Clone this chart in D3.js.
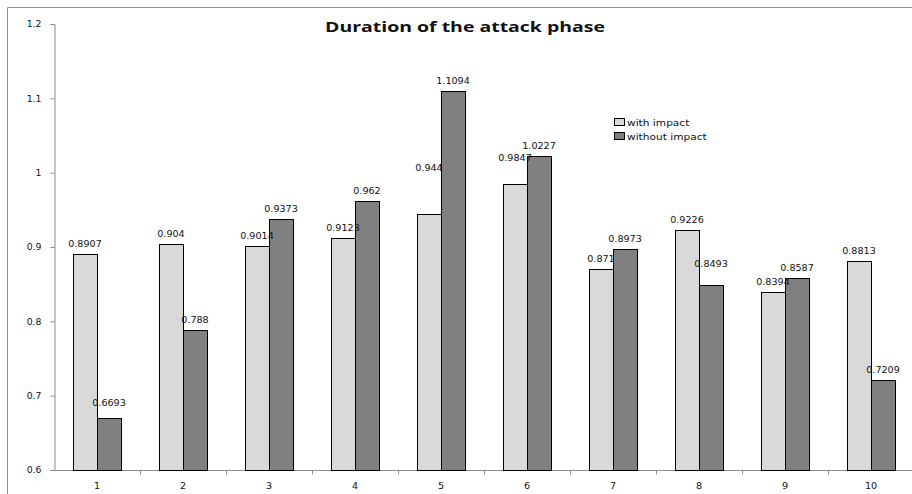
<!DOCTYPE html>
<html>
<head>
<meta charset="utf-8">
<script src="https://cdn.jsdelivr.net/npm/d3@7"></script>
<style>
  html, body { margin: 0; padding: 0; background: #fff; }
  svg { display: block; }
  text { font-family: "DejaVu Sans", Verdana, sans-serif; fill: #111; }
</style>
</head>
<body>
<svg id="chart" width="912" height="494"></svg>
<script>
// Chart data
const categories = ["1", "2", "3", "4", "5", "6", "7", "8", "9", "10"];
const seriesNames = ["with impact", "without impact"];
const withImpact = [0.8907, 0.904, 0.9014, 0.9123, 0.944, 0.9847, 0.871, 0.9226, 0.8394, 0.8813];
const withoutImpact = [0.6693, 0.788, 0.9373, 0.962, 1.1094, 1.0227, 0.8973, 0.8493, 0.8587, 0.7209];
const yTicks = [0.6, 0.7, 0.8, 0.9, 1, 1.1, 1.2];
const colors = ["#d9d9d9", "#808080"];

const svg = d3.select("#chart");
const W = 912, H = 494;

const plot = { left: 54, right: 914, top: 24, bottom: 470 };

const x = d3.scaleBand().domain(categories).range([plot.left, plot.right]).paddingInner(0).paddingOuter(0);
const inner = d3.scaleBand().domain(seriesNames).range([0, x.bandwidth()]).paddingInner(0).paddingOuter(0.79);
const y = d3.scaleLinear().domain([0.6, 1.2]).range([plot.bottom, plot.top]);

// a few value labels were dragged upward by hand (extra lift in px, keyed "category|series index")
const labelLift = { "1|1": 5, "5|0": 36, "6|0": 16, "8|1": 11 };

// text widened horizontally around its anchor point
function wide(sel, sx) {
  sel.each(function () {
    const t = d3.select(this);
    const ax = +t.attr("x") || 0, ay = +t.attr("y") || 0;
    t.attr("transform", `translate(${ax},${ay}) scale(${sx},1) translate(${-ax},${-ay})`);
  });
}

// outer frame (only top and left edges fall inside the canvas)
svg.append("path")
  .attr("d", `M7.5,${H} V7.5 H${W}`)
  .attr("fill", "none").attr("stroke", "#8c8c8c").attr("stroke-width", 1);

// title
svg.append("text")
  .attr("x", 325).attr("y", 32)
  .attr("textLength", 280)
  .attr("lengthAdjust", "spacingAndGlyphs")
  .style("font-family", "'Open Sans', sans-serif")
  .style("font-weight", "bold")
  .style("font-size", "14px")
  .text("Duration of the attack phase");

// y axis
const yAxis = d3.axisLeft(y).tickValues(yTicks).tickSize(4).tickPadding(13)
  .tickFormat(d => String(d));
const gy = svg.append("g").attr("transform", `translate(${plot.left + 0.5},0)`).call(yAxis);
gy.select(".domain").attr("stroke", "#8c8c8c");
gy.selectAll(".tick line").attr("stroke", "#8c8c8c");
gy.selectAll(".tick text")
  .attr("x", -13).attr("dy", "0.36em")
  .style("font-size", "8px").style("font-family", "'DejaVu Sans', sans-serif").attr("fill", "#111")
  .call(wide, 1.17);

// x axis with ticks at category boundaries
const gx = svg.append("g").attr("transform", `translate(0,${plot.bottom + 0.5})`);
gx.append("line").attr("x1", plot.left).attr("x2", W).attr("stroke", "#8c8c8c");
gx.selectAll("line.tk").data(categories.slice(1))
  .join("line").attr("class", "tk")
  .attr("x1", d => Math.round(x(d)) + 0.5).attr("x2", d => Math.round(x(d)) + 0.5)
  .attr("y1", 0).attr("y2", 4).attr("stroke", "#8c8c8c");
gx.selectAll("text").data(categories)
  .join("text")
  .attr("x", d => x(d) + x.bandwidth() / 2)
  .attr("y", 18.5)
  .attr("text-anchor", "middle")
  .style("font-size", "8px")
  .text(d => d)
  .call(wide, 1.2);

// bars
const rows = categories.map((c, i) => ({ c, vals: [withImpact[i], withoutImpact[i]] }));
const groups = svg.append("g").selectAll("g").data(rows).join("g")
  .attr("transform", d => `translate(${x(d.c)},0)`);

groups.selectAll("rect").data(d => d.vals.map((v, j) => ({ v, s: seriesNames[j], j, c: d.c })))
  .join("rect")
  .attr("x", d => Math.round(inner(d.s)) + 0.5)
  .attr("y", d => Math.round(y(d.v)) + 0.5)
  .attr("width", Math.round(inner.bandwidth()))
  .attr("height", d => plot.bottom - Math.round(y(d.v)))
  .attr("fill", d => colors[d.j])
  .attr("stroke", "#000").attr("stroke-width", 1);

// value labels
groups.selectAll("text").data(d => d.vals.map((v, j) => ({ v, s: seriesNames[j], j, c: d.c })))
  .join("text")
  .attr("x", d => inner(d.s) + inner.bandwidth() / 2)
  .attr("y", d => y(d.v) - 7 - (labelLift[`${d.c}|${d.j}`] || 0))
  .attr("text-anchor", "middle")
  .style("font-size", "8px")
  .text(d => String(d.v))
  .call(wide, 1.2);

// legend
const lg = svg.append("g").attr("transform", "translate(614,118)");
seriesNames.forEach((name, i) => {
  const row = lg.append("g").attr("transform", `translate(0,${i * 14})`);
  row.append("rect").attr("x", 0.5).attr("y", 0.5).attr("width", 10).attr("height", 7)
    .attr("fill", colors[i]).attr("stroke", "#000");
  row.append("text").attr("x", 13).attr("y", 7.5).style("font-size", "9px").text(name)
    .call(wide, 1.18);
});
</script>
</body>
</html>
